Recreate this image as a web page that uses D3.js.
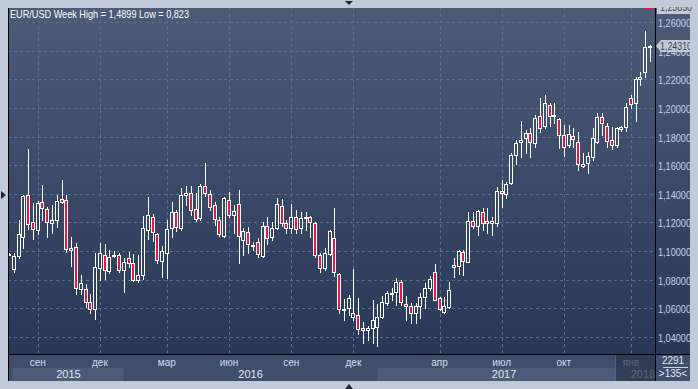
<!DOCTYPE html>
<html>
<head>
<meta charset="utf-8">
<script src="https://cdn.jsdelivr.net/npm/d3@7"></script>
<style>
body { margin: 0; background: #c0cad8; }
svg { display: block; font-family: "Liberation Sans", Arial, sans-serif; }
</style>
</head>
<body>
<script>
//weekly EUR/USD candles, one per index (3 short holiday candles included)
var opens = [1.0983,1.0873,1.0968,1.1101,1.1390,1.1201,1.1147,1.1345,1.1292,1.1194,1.1215,1.1362,1.1357,1.1019,1.1026,1.0733,1.0738,1.0642,1.0594,1.0880,1.0971,1.0863,1.0968,1.0971,1.0868,1.0950,1.0915,1.0798,1.0831,1.1147,1.1241,1.1117,1.0933,1.0989,
  1.1159,1.1271,1.1159,1.1392,1.1403,1.1292,1.1229,1.1455,1.1397,1.1320,1.1217,1.1108,1.1355,1.1250,1.1327,1.1078,1.1131,1.1045,1.1061,1.0968,1.1175,1.1096,1.1159,1.1315,1.1194,1.1159,1.1236,1.1159,1.1229,1.1236,1.1194,1.0973,1.0880,1.0980,
  1.1089,1.0840,1.0589,1.0601,1.0538,1.0554,1.0461,1.0449,1.0461,1.0468,1.0538,1.0635,1.0698,1.0712,1.0787,1.0628,1.0619,1.0566,1.0617,1.0682,1.0745,1.0852,1.0670,1.0577,1.0612,1.0887,1.0896,1.0996,1.0926,1.1210,
  1.1178,1.1276,1.1210,1.1210,1.1194,1.1422,1.1399,1.1473,1.1671,1.1760,1.1788,1.1823,1.1753,1.1946,1.1876,1.2018,1.1950,1.1923,1.1811,1.1741,1.1804,1.1760,1.1592,1.1613,1.1655,1.1764,1.1937,1.1874,1.1776,1.1741,1.1850,1.1864,1.2067,1.2032,1.2200,1.2253,1.2430];
var highs = [1.0985,1.0985,1.1217,1.1392,1.1711,1.1334,1.1350,1.1462,1.1310,1.1322,1.1392,1.1497,1.1392,1.1096,1.1054,1.0833,1.0771,1.0698,1.0989,1.1054,1.1050,1.1008,1.1003,1.0985,1.0950,1.0996,1.0980,1.0973,1.1245,1.1376,1.1260,1.1124,1.1038,1.1217,
  1.1343,1.1288,1.1443,1.1455,1.1457,1.1404,1.1466,1.1613,1.1427,1.1345,1.1241,1.1380,1.1415,1.1322,1.1427,1.1159,1.1166,1.1066,1.1089,1.1206,1.1241,1.1206,1.1369,1.1362,1.1217,1.1329,1.1287,1.1276,1.1276,1.1245,1.1206,1.0985,1.1020,1.1147,
  1.1299,1.0849,1.0663,1.0694,1.0873,1.0670,1.0508,1.0480,1.0659,1.0631,1.0687,1.0721,1.0740,1.0810,1.0798,1.0687,1.0635,1.0635,1.0705,1.0775,1.0826,1.0910,1.0682,1.0677,1.0784,1.0950,1.1008,1.1008,1.1275,1.1276,
  1.1285,1.1299,1.1299,1.1241,1.1450,1.1497,1.1485,1.1688,1.1776,1.1909,1.1846,1.1858,1.1951,1.2072,1.2090,1.2032,1.2032,1.1927,1.1881,1.1881,1.1858,1.1834,1.1688,1.1695,1.1858,1.1962,1.1962,1.1897,1.1865,1.1869,1.1874,1.2032,1.2090,1.2218,1.2253,1.2537,1.2439];
var lows = [1.0980,1.0856,1.0950,1.1019,1.1152,1.1085,1.1120,1.1217,1.1101,1.1129,1.1171,1.1334,1.0996,1.0896,1.0700,1.0700,1.0612,1.0566,1.0524,1.0798,1.0803,1.0849,1.0957,1.0856,1.0712,1.0892,1.0794,1.0787,1.0803,1.1082,1.1070,1.0915,1.0822,1.0810,
  1.1101,1.1143,1.1147,1.1322,1.1252,1.1213,1.1217,1.1385,1.1287,1.1182,1.1106,1.1096,1.1236,1.1129,1.0915,1.0973,1.0985,1.1008,1.0961,1.0961,1.1050,1.1078,1.1152,1.1178,1.1124,1.1124,1.1124,1.1129,1.1147,1.1101,1.0961,1.0857,1.0868,1.0973,
  1.0826,1.0570,1.0519,1.0554,1.0519,1.0420,1.0356,1.0380,1.0356,1.0339,1.0531,1.0624,1.0659,1.0624,1.0624,1.0519,1.0496,1.0496,1.0531,1.0600,1.0728,1.0659,1.0589,1.0570,1.0600,1.0817,1.0838,1.0833,1.0922,1.1159,
  1.1113,1.1148,1.1124,1.1113,1.1175,1.1310,1.1369,1.1469,1.1609,1.1660,1.1688,1.1660,1.1730,1.1834,1.1858,1.1874,1.1893,1.1718,1.1665,1.1730,1.1730,1.1567,1.1590,1.1548,1.1636,1.1753,1.1811,1.1730,1.1716,1.1730,1.1839,1.1841,1.1997,1.1911,1.2160,1.2218,1.2330];
var closes = [1.0982,1.0966,1.1117,1.1385,1.1187,1.1152,1.1334,1.1299,1.1203,1.1215,1.1352,1.1345,1.1012,1.1005,1.0740,1.0775,1.0647,1.0594,1.0887,1.0989,1.0868,1.0961,1.0972,1.0868,1.0924,1.0915,1.0798,1.0831,1.1159,1.1255,1.1133,1.0938,1.1004,1.1152,
  1.1271,1.1166,1.1392,1.1403,1.1287,1.1222,1.1455,1.1403,1.1310,1.1222,1.1117,1.1369,1.1252,1.1280,1.1108,1.1140,1.1050,1.1036,1.0978,1.1175,1.1089,1.1159,1.1329,1.1194,1.1159,1.1236,1.1152,1.1229,1.1241,1.1203,1.0973,1.0880,1.0989,1.1143,
  1.0856,1.0594,1.0596,1.0670,1.0566,1.0454,1.0449,1.0466,1.0519,1.0543,1.0642,1.0705,1.0705,1.0782,1.0642,1.0617,1.0566,1.0619,1.0677,1.0740,1.0803,1.0659,1.0593,1.0614,1.0728,1.0901,1.1001,1.0933,1.1210,1.1178,
  1.1283,1.1194,1.1194,1.1194,1.1422,1.1403,1.1466,1.1671,1.1753,1.1776,1.1823,1.1760,1.1927,1.1858,1.2032,1.1946,1.1946,1.1811,1.1730,1.1816,1.1781,1.1606,1.1606,1.1664,1.1788,1.1937,1.1897,1.1771,1.1741,1.1857,1.1869,1.2004,1.2025,1.2200,1.2214,1.2423,1.2431];

//price axis ticks
var priceTicks = [1.04,1.06,1.08,1.10,1.12,1.14,1.16,1.18,1.20,1.22,1.24,1.26];

//month ticks: candle index of first week of the month
var monthIdx = [6,19,33,46,59,72,90,103,116,130];
var monthLabels = ["сен","дек","мар","июн","сен","дек","апр","июл","окт","янв"];

//years: candle index of first week of each year
var yearIdx = [0,24,77,130];
var yearLabels = ["2015","2016","2017","2018"];

var title = "EUR/USD Week High = 1,4899 Low = 0,823";
var lastPrice = 1.2431, topMarker = "1,25850";

var width = 698, height = 389;
var pL = 8, pR = 655, pT = 8, pB = 354;

var svg = d3.select("body").append("svg")
    .attr("width", width)
    .attr("height", height);

var defs = svg.append("defs");
var grad = defs.append("linearGradient")
    .attr("id", "bg").attr("gradientUnits", "userSpaceOnUse")
    .attr("x1", 0).attr("x2", 0).attr("y1", pT).attr("y2", pB);
grad.append("stop").attr("offset", "0%").attr("stop-color", "#4b5b78");
grad.append("stop").attr("offset", "100%").attr("stop-color", "#2a3857");

defs.append("clipPath").attr("id", "plotClip")
  .append("rect").attr("x", pL + 1).attr("y", pT).attr("width", pR - pL - 1).attr("height", pB - pT);

//background panels
svg.append("rect").attr("x", pL).attr("y", pT).attr("width", 690 - pL).attr("height", pB - pT)
    .attr("fill", "url(#bg)");
svg.append("rect").attr("x", pL).attr("y", pB).attr("width", 690 - pL).attr("height", 381 - pB)
    .attr("fill", "#3e4e6c");

var n = opens.length;
var x = d3.scaleLinear().domain([0, n - 1]).range([9, 650]);
var y = d3.scaleLinear().domain([1.04, 1.26]).range([337, 22]);

var fmt = function(v){ return d3.format(".5f")(v).replace(".", ","); };

//grid
var grid = svg.append("g").attr("clip-path", "url(#plotClip)")
    .attr("stroke", "#5d6d8b").attr("stroke-dasharray", "3,3").attr("stroke-width", 1);
grid.selectAll(".hgrid").data(priceTicks).enter().append("line")
    .attr("x1", pL).attr("x2", pR)
    .attr("y1", function(d){ return Math.round(y(d)) + 0.5; })
    .attr("y2", function(d){ return Math.round(y(d)) + 0.5; });
grid.selectAll(".vgrid").data(monthIdx).enter().append("line")
    .attr("y1", pT).attr("y2", pB)
    .attr("x1", function(d){ return Math.round(x(d)) + 0.5; })
    .attr("x2", function(d){ return Math.round(x(d)) + 0.5; });

//candles
var candles = svg.append("g").attr("clip-path", "url(#plotClip)")
    .selectAll(".candle").data(d3.range(n)).enter().append("g").attr("class", "candle");

candles.append("line")
    .attr("x1", function(i){ return Math.round(x(i)) + 0.5; })
    .attr("x2", function(i){ return Math.round(x(i)) + 0.5; })
    .attr("y1", function(i){ return Math.round(y(highs[i])); })
    .attr("y2", function(i){ return Math.round(y(lows[i])) + 1; })
    .attr("stroke", "#ffffff").attr("stroke-width", 1);

candles.append("rect")
    .attr("x", function(i){ return Math.round(x(i)) - 1.5; })
    .attr("width", 3)
    .attr("y", function(i){ return Math.round(y(Math.max(opens[i], closes[i]))) + 0.5; })
    .attr("height", function(i){
        var h = Math.round(y(Math.min(opens[i], closes[i]))) - Math.round(y(Math.max(opens[i], closes[i])));
        return Math.max(h, 1);
    })
    .attr("fill", function(i){ return closes[i] < opens[i] ? "#e8173f" : "url(#bg)"; })
    .attr("stroke", "#ffffff").attr("stroke-width", 1);

//frame lines
svg.append("line").attr("x1", pR + 0.5).attr("x2", pR + 0.5).attr("y1", pT).attr("y2", 381).attr("stroke", "#000");
svg.append("line").attr("x1", pL).attr("x2", 690).attr("y1", pB + 0.5).attr("y2", pB + 0.5).attr("stroke", "#000");

//price axis
var yAxis = d3.axisRight(y).tickValues(priceTicks).tickSize(0).tickPadding(3).tickFormat(fmt);
var ya = svg.append("g").attr("transform", "translate(" + pR + ",1)").call(yAxis);
ya.select(".domain").remove();
ya.selectAll("text").attr("fill", "#c6d4ea").style("font-size", "11px")
    .style("font-family", "'Liberation Sans', Arial, sans-serif")
    .attr("textLength", 33).attr("lengthAdjust", "spacingAndGlyphs");

//marker box at the top of the price axis, partly hidden by the frame
var tm = svg.append("g");
tm.append("rect").attr("x", 657).attr("y", 2).attr("width", 37).attr("height", 12)
    .attr("fill", "#c3cad5");
tm.append("text").attr("x", 660).attr("y", 11).text(topMarker)
    .attr("fill", "#3a475e").style("font-size", "11px")
    .attr("textLength", 32).attr("lengthAdjust", "spacingAndGlyphs");
svg.append("rect").attr("x", 646).attr("y", 8).attr("width", 6).attr("height", 2).attr("fill", "#e8173f");

var ly = Math.round(y(lastPrice));
var lp = svg.append("g");
lp.append("path")
    .attr("d", "M656," + ly + "L661," + (ly - 6) + "L694," + (ly - 6) + "L694," + (ly + 6) + "L661," + (ly + 6) + "Z")
    .attr("fill", "#c3cad5");
lp.append("text").attr("x", 660).attr("y", ly + 4).text(fmt(lastPrice))
    .attr("fill", "#34425a").style("font-size", "11px")
    .attr("textLength", 32).attr("lengthAdjust", "spacingAndGlyphs");

//year bands
var yearStart = yearIdx.map(function(d, k){ return k === 0 ? 13 : x(d); });
var yearEnd = yearIdx.map(function(d, k){ return k < yearIdx.length - 1 ? x(yearIdx[k + 1]) : pR; });
svg.selectAll(".yband").data(yearLabels).enter().append("rect")
    .attr("x", function(d, k){ return yearStart[k]; })
    .attr("width", function(d, k){ return yearEnd[k] - yearStart[k]; })
    .attr("y", 368).attr("height", 13)
    .attr("fill", function(d, k){ return k % 2 === 0 ? "#4b5b79" : "#3e4e6c"; });
svg.selectAll(".ylabel").data(yearLabels).enter().append("text")
    .attr("x", function(d, k){ return (yearStart[k] + yearEnd[k]) / 2; })
    .attr("y", 378).attr("text-anchor", "middle")
    .attr("fill", "#e2e8f0").style("font-size", "11px")
    .text(function(d){ return d; });

//month labels
svg.selectAll(".mlabel").data(monthLabels).enter().append("text")
    .attr("x", function(d, k){ return x(monthIdx[k]); })
    .attr("y", 366).attr("text-anchor", "middle")
    .attr("fill", "#d6dde8").style("font-size", "10px")
    .text(function(d){ return d; });

//dimmed window over the latest weeks
svg.append("rect").attr("x", 616).attr("y", 355).attr("width", pR - 616).attr("height", 26)
    .attr("fill", "#2c374f").attr("opacity", 0.75);
svg.append("line").attr("x1", 615.5).attr("x2", 615.5).attr("y1", 355).attr("y2", 381).attr("stroke", "#556179");

//bottom right counter
svg.append("text").attr("x", 673).attr("y", 364).attr("text-anchor", "middle")
    .attr("fill", "#e6ebf2").style("font-size", "10px").text("2291");
svg.append("line").attr("x1", 663).attr("x2", 688).attr("y1", 367.5).attr("y2", 367.5).attr("stroke", "#c9d2df");
svg.append("text").attr("x", 673).attr("y", 377).attr("text-anchor", "middle")
    .attr("fill", "#e6ebf2").style("font-size", "10px").text(">" + n + "<");

//outer light border
svg.append("rect").attr("x", 0).attr("y", 0).attr("width", width).attr("height", pT - 1).attr("fill", "#c0cad8");
svg.append("rect").attr("x", 0).attr("y", 0).attr("width", pL).attr("height", height).attr("fill", "#c0cad8");
svg.append("rect").attr("x", 690).attr("y", 14).attr("width", 8).attr("height", height).attr("fill", "#c0cad8");
svg.append("rect").attr("x", 0).attr("y", 381).attr("width", width).attr("height", 8).attr("fill", "#c0cad8");
svg.append("line").attr("x1", pL + 0.5).attr("x2", pL + 0.5).attr("y1", pT).attr("y2", 381).attr("stroke", "#000");

//scroll arrows
svg.append("path").attr("d", "M345,1L353,1L349,5Z").attr("fill", "#1c2536");
svg.append("path").attr("d", "M345,389L353,389L349,384Z").attr("fill", "#1c2536");
svg.append("path").attr("d", "M1,191L6,195L1,199Z").attr("fill", "#1c2536");

//title
svg.append("text").attr("x", 10).attr("y", 18)
    .attr("fill", "#ffffff").style("font-size", "11px")
    .attr("textLength", 179).attr("lengthAdjust", "spacingAndGlyphs")
    .text(title);
</script>
</body>
</html>
